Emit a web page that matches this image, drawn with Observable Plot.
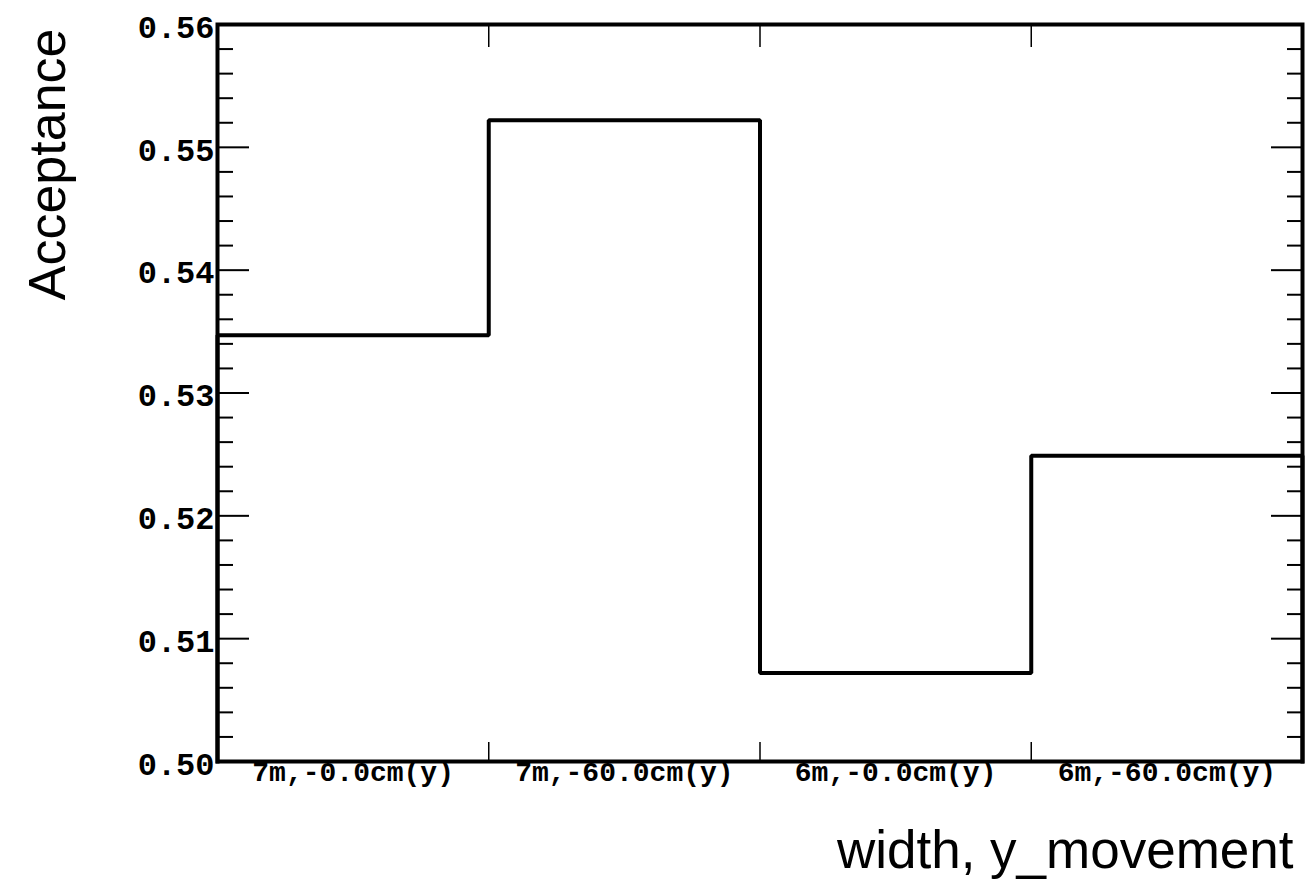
<!DOCTYPE html>
<html><head><meta charset="utf-8">
<script src="https://cdn.jsdelivr.net/npm/d3@7"></script>
<script src="https://cdn.jsdelivr.net/npm/@observablehq/plot@0.6"></script>
<style>body{margin:0;background:#fff;overflow:hidden}</style>
</head><body><div id="chart"></div>
<script>
const categories = ["7m,-0.0cm(y)", "7m,-60.0cm(y)", "6m,-0.0cm(y)", "6m,-60.0cm(y)"];
const acceptance = [0.5347, 0.5522, 0.5072, 0.5249];
const yMajorTicks = [0.50, 0.51, 0.52, 0.53, 0.54, 0.55, 0.56];
const yTickLabels = ["0.50", "0.51", "0.52", "0.53", "0.54", "0.55", "0.56"];
const yMinorTicks = d3.range(0, 31).map(i => 0.50 + i * 0.002).filter((v, i) => i % 5 !== 0);
const xBinEdges = [1, 2, 3];
const xTitle = "width, y_movement";
const yTitle = "Acceptance";

const n = categories.length;
const steps = [{x: 0, y: 0.50}]
  .concat(acceptance.map((v, i) => ({x: i, y: v})))
  .concat([{x: n, y: acceptance[n - 1]}, {x: n, y: 0.50}]);
const centers = categories.map((c, i) => i + 0.5);

const monoFont = "'Liberation Mono', 'Courier New', monospace";
const sansFont = "'Liberation Sans', Arial, Helvetica, sans-serif";

const chart = Plot.plot({
  width: 1312,
  height: 882,
  marginLeft: 217,
  marginRight: 10,
  marginTop: 24,
  marginBottom: 121,
  style: {background: "#fff", color: "#000"},
  x: {domain: [0, n], axis: null},
  y: {domain: [0.50, 0.56], axis: null},
  marks: [
    // minor y ticks (left and right, inward)
    Plot.axisY(yMinorTicks, {anchor: "left", tickSize: -16, tickFormat: () => "", strokeWidth: 2, label: null}),
    Plot.axisY(yMinorTicks, {anchor: "right", tickSize: -16, tickFormat: () => "", strokeWidth: 2, label: null}),
    // major y ticks
    Plot.axisY(yMajorTicks, {anchor: "left", tickSize: -32, tickFormat: () => "", strokeWidth: 2, label: null}),
    Plot.axisY(yMajorTicks, {anchor: "right", tickSize: -32, tickFormat: () => "", strokeWidth: 2, label: null}),
    // y tick labels
    Plot.axisY(yMajorTicks, {
      anchor: "left", tickSize: 0, tickPadding: 3, label: null,
      tickFormat: (d) => yTickLabels[yMajorTicks.indexOf(d)],
      fontSize: 32, fontFamily: monoFont, fontWeight: "bold", dy: 3
    }),
    // x ticks at bin edges
    Plot.axisX(xBinEdges, {anchor: "bottom", tickSize: -19, tickFormat: () => "", strokeWidth: 1.5, label: null}),
    Plot.axisX(xBinEdges, {anchor: "top", tickSize: -22, tickFormat: () => "", strokeWidth: 1.5, label: null}),
    // x category labels
    Plot.axisX(centers, {
      anchor: "bottom", tickSize: 0, tickPadding: 0, label: null,
      tickFormat: (d) => categories[Math.floor(d)],
      fontSize: 28, fontFamily: monoFont, fontWeight: "bold"
    }),
    // histogram outline
    Plot.line(steps, {x: "x", y: "y", curve: "step-after", stroke: "#000", strokeWidth: 4, strokeLinejoin: "miter", strokeLinecap: "square"}),
    Plot.frame({stroke: "#000", strokeWidth: 4}),
    // axis titles
    Plot.text([xTitle], {
      frameAnchor: "bottom-right", text: d => d, textAnchor: "end", lineAnchor: "bottom",
      dx: -9, dy: 106, fontSize: 53, fontFamily: sansFont, fill: "#000"
    }),
    Plot.text([yTitle], {
      frameAnchor: "top-left", text: d => d, textAnchor: "end", lineAnchor: "bottom",
      rotate: -90, dx: -153, dy: 4, fontSize: 52, fontFamily: sansFont, fill: "#000"
    })
  ]
});
document.getElementById("chart").appendChild(chart);
</script>
</body></html>
